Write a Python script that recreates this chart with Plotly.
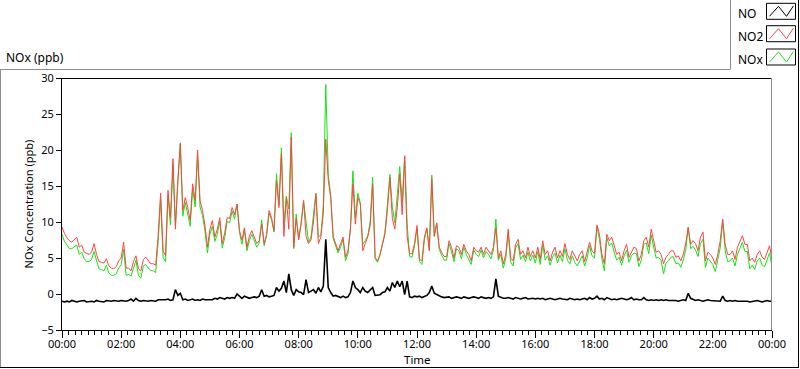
import pandas as pd
import plotly.graph_objects as go

# ---------------- data (5-minute readings, 00:00 .. 24:00) ----------------
series_names = ["NO", "NO2", "NOx"]
start_time = "2000-01-01 00:00"
step = "5min"

no2_ppb = [
    9.3, 8.4, 7.8, 7.4, 7.2, 7.6, 7.9, 6.5, 6.8, 5.8, 5.6, 5.5,
    5.8, 7.0, 5.5, 4.5, 4.4, 4.3, 4.9, 3.9, 3.6, 3.5, 3.8, 4.6,
    5.0, 7.2, 3.6, 3.6, 3.2, 4.5, 5.3, 3.5, 3.2, 4.8, 5.1, 4.6,
    4.2, 4.2, 4.0, 8.0, 14.0, 6.0, 5.3, 14.4, 10.5, 18.8, 9.0, 15.8,
    20.9, 11.6, 13.4, 12.0, 10.2, 15.3, 13.0, 20.0, 13.0, 11.6, 9.5, 6.5,
    9.0, 10.2, 7.9, 9.0, 10.6, 7.0, 8.5, 10.6, 10.5, 12.0, 11.0, 12.5,
    8.8, 7.5, 9.2, 6.5, 8.0, 8.8, 7.9, 7.0, 7.4, 9.7, 7.0, 8.3,
    11.6, 10.6, 8.8, 15.8, 12.0, 19.5, 8.0, 13.4, 9.0, 21.8, 6.5, 10.5,
    7.5, 9.7, 13.0, 8.0, 7.0, 7.5, 10.0, 13.9, 7.0, 7.9, 11.2, 21.5,
    15.8, 13.4, 8.0, 7.0, 6.0, 7.0, 7.9, 5.1, 6.0, 9.0, 15.3, 9.7,
    13.4, 12.5, 6.0, 7.0, 7.9, 9.5, 15.3, 5.1, 4.6, 5.5, 7.0, 8.3,
    11.6, 16.2, 10.5, 9.0, 12.0, 16.7, 11.0, 19.2, 8.0, 5.6, 5.6, 7.0,
    9.5, 4.8, 4.6, 7.9, 9.2, 6.0, 16.0, 8.0, 9.9, 6.5, 5.8, 5.2,
    5.2, 7.4, 6.5, 5.0, 6.7, 6.5, 5.5, 6.9, 6.0, 5.5, 4.6, 6.5,
    6.0, 5.8, 6.5, 5.5, 6.5, 6.0, 5.5, 6.5, 9.2, 5.0, 6.0, 4.2,
    5.5, 9.0, 5.0, 4.6, 6.9, 7.6, 5.5, 6.0, 5.0, 6.5, 5.2, 6.0,
    5.0, 6.5, 4.8, 7.4, 5.5, 6.0, 4.6, 5.8, 6.5, 5.0, 6.0, 5.2,
    7.0, 5.5, 4.8, 6.0, 5.2, 4.6, 5.5, 6.0, 4.5, 5.8, 7.2, 6.0,
    5.6, 9.6, 8.3, 5.5, 4.2, 8.3, 7.4, 7.9, 6.5, 5.5, 5.8, 4.6,
    6.0, 6.9, 5.1, 5.8, 6.5, 6.3, 4.6, 5.5, 7.4, 7.9, 6.5, 9.0,
    7.4, 5.8, 6.0, 5.5, 4.2, 5.1, 5.5, 6.0, 6.0, 5.1, 5.3, 4.6,
    5.5, 7.0, 9.2, 6.9, 7.4, 7.0, 6.0, 7.9, 8.6, 4.6, 5.8, 5.5,
    5.0, 4.1, 5.5, 7.4, 10.4, 6.9, 5.5, 5.5, 6.0, 4.8, 6.5, 7.4,
    8.1, 6.9, 6.9, 4.6, 5.0, 4.4, 5.5, 6.0, 5.1, 4.8, 5.8, 6.7,
    4.8,
]

no_ppb = [
    -1.0, -1.1, -1.0, -1.1, -0.9, -1.0, -1.1, -1.0, -1.0, -0.9, -1.1, -1.0,
    -1.0, -1.1, -0.9, -1.0, -1.0, -1.1, -0.9, -1.0, -1.0, -0.9, -1.0, -1.0,
    -0.9, -1.0, -1.0, -0.9, -0.7, -1.0, -0.6, -0.9, -1.0, -0.9, -1.0, -1.0,
    -0.9, -1.0, -1.0, -0.8, -0.8, -0.9, -0.8, -0.7, -0.9, -0.8, 0.6, -0.2,
    0.1, -0.8, -0.7, -0.9, -0.8, -0.7, -0.9, -0.8, -0.9, -0.7, -0.8, -0.8,
    -0.7, -0.8, -0.6, -0.7, -0.5, -0.6, -0.7, -0.5, -0.6, -0.5, -0.6, 0.0,
    -0.3, -0.6, -0.3, -0.5, -0.6, -0.5, -0.4, -0.5, -0.3, 0.6, -0.3, -0.2,
    -0.4, -0.3, -0.2, 0.9, 0.4, 0.8, 1.8, 0.2, 2.8, 0.6, -0.2, 0.6,
    0.3, 0.2, -0.1, 2.0, 0.2, 0.4, 0.6, 0.1, 0.9, 0.3, 1.1, 7.6,
    0.9, 0.2, -0.3, -0.2, -0.3, -0.5, -0.3, -0.5, -0.4, 0.2, 1.8, 0.9,
    0.6, 0.2, 0.9, 0.4, 0.2, 0.5, 0.9, -0.2, -0.2, -0.1, 0.2, 0.3,
    0.9, 0.4, 1.6, 0.9, 1.8, 1.0, 1.8, -0.1, 1.8, -0.4, -0.5, -0.3,
    -0.4, -0.3, -0.5, -0.3, -0.2, 0.2, 1.1, 0.1, -0.1, -0.3, -0.4, -0.5,
    -0.5, -0.4, -0.6, -0.5, -0.4, -0.5, -0.6, -0.4, -0.5, -0.6, -0.5, -0.4,
    -0.5, -0.6, -0.4, -0.5, -0.6, -0.5, -0.6, -0.4, 2.1, -0.3, -0.5, -0.6,
    -0.6, -0.5, -0.6, -0.7, -0.5, -0.6, -0.7, -0.6, -0.5, -0.7, -0.6, -0.6,
    -0.7, -0.6, -0.7, -0.6, -0.8, -0.7, -0.6, -0.7, -0.8, -0.7, -0.6, -0.7,
    -0.7, -0.8, -0.6, -0.7, -0.8, -0.7, -0.8, -0.7, -0.6, -0.8, -0.5, -0.7,
    -0.6, -0.3, -0.7, -0.6, -0.8, -0.5, -0.7, -0.8, -0.7, -0.8, -0.7, -0.6,
    -0.7, -0.8, -0.7, -0.5, -0.8, -0.7, -0.8, -0.8, -0.5, -0.8, -0.9, -0.8,
    -0.9, -0.8, -0.9, -0.8, -0.9, -0.8, -0.9, -0.9, -0.8, -0.9, -1.0, -0.9,
    -0.8, -0.9, 0.1, -0.6, -0.8, -0.9, -0.8, -0.9, -1.0, -0.9, -0.8, -0.9,
    -0.9, -1.0, -0.9, -1.0, -0.3, -0.9, -1.0, -0.9, -1.0, -0.9, -1.0, -1.0,
    -0.9, -1.0, -1.0, -1.1, -1.0, -1.0, -0.9, -1.0, -1.1, -1.0, -0.9, -1.0,
    -1.0,
]

nox_ppb = [
    8.3, 7.3, 6.8, 6.3, 6.3, 6.6, 6.8, 5.5, 5.8, 4.9, 4.5, 4.5,
    4.8, 5.9, 4.6, 3.5, 3.4, 3.2, 4.0, 2.9, 2.6, 2.6, 2.8, 3.6,
    4.1, 6.2, 2.6, 2.7, 2.5, 3.5, 4.7, 2.6, 2.2, 3.9, 4.1, 3.6,
    3.3, 3.2, 3.0, 7.2, 13.2, 5.1, 4.5, 13.7, 9.6, 18.0, 9.6, 15.6,
    21.0, 10.8, 12.7, 11.1, 9.4, 14.6, 12.1, 19.2, 12.1, 10.9, 8.7, 5.7,
    8.3, 9.4, 7.3, 8.3, 10.1, 6.4, 7.8, 10.1, 9.9, 11.5, 10.4, 12.5,
    8.5, 6.9, 8.9, 6.0, 7.4, 8.3, 7.5, 6.5, 7.1, 10.3, 6.7, 8.1,
    11.2, 10.3, 8.6, 16.7, 12.4, 20.3, 9.8, 13.6, 11.8, 22.4, 6.3, 11.1,
    7.8, 9.9, 12.9, 10.0, 7.2, 7.9, 10.6, 14.0, 7.9, 8.2, 12.3, 29.1,
    16.7, 13.6, 7.7, 6.8, 5.7, 6.5, 7.6, 4.6, 5.6, 9.2, 17.1, 10.6,
    14.0, 12.7, 6.9, 7.4, 8.1, 10.0, 16.2, 4.9, 4.4, 5.4, 7.2, 8.6,
    12.5, 16.6, 12.1, 9.9, 13.8, 17.7, 12.8, 19.1, 9.8, 5.2, 5.1, 6.7,
    9.1, 4.5, 4.1, 7.6, 9.0, 6.2, 16.5, 8.1, 9.8, 6.2, 5.4, 4.7,
    4.7, 7.0, 5.9, 4.5, 6.3, 6.0, 4.9, 6.5, 5.5, 4.9, 4.1, 6.1,
    5.5, 5.2, 6.1, 5.0, 5.9, 5.5, 4.9, 6.1, 10.4, 4.7, 5.5, 3.6,
    4.9, 8.5, 4.4, 3.9, 6.4, 7.0, 4.8, 5.4, 4.5, 5.8, 4.6, 5.4,
    4.3, 5.9, 4.1, 6.8, 4.7, 5.3, 4.0, 5.1, 5.7, 4.3, 5.4, 4.5,
    6.3, 4.7, 4.2, 5.3, 4.4, 3.9, 4.7, 5.3, 3.9, 5.0, 6.7, 5.3,
    5.0, 9.3, 7.6, 4.9, 3.2, 7.8, 6.7, 7.1, 5.8, 4.7, 5.1, 4.0,
    5.3, 6.1, 4.4, 5.3, 5.7, 5.6, 3.8, 4.7, 6.9, 7.1, 5.6, 8.2,
    6.5, 5.0, 5.1, 4.7, 2.8, 4.3, 4.6, 5.1, 5.2, 4.2, 4.3, 3.7,
    4.7, 6.1, 9.3, 6.3, 6.6, 6.1, 5.2, 7.0, 7.6, 3.7, 5.0, 4.6,
    4.1, 3.1, 4.6, 6.4, 10.1, 6.0, 4.5, 4.6, 5.0, 3.9, 5.5, 6.4,
    7.2, 5.9, 5.9, 3.5, 4.0, 3.4, 4.6, 5.0, 4.0, 3.8, 4.9, 5.7,
    3.8,
]

y_ticks = [-5, 0, 5, 10, 15, 20, 25, 30]

times = pd.date_range(start_time, periods=len(no2_ppb), freq=step)

# ---------------- styling ----------------
colors = {"NO": "#000000", "NO2": "#ff4444", "NOx": "#14e614"}
widths = {"NO": 1.6, "NO2": 1.0, "NOx": 1.0}
FONT = "Noto Sans"

W, H = 800, 369
L, R, T, B = 62, 772, 78, 330


def px(x):
    return (x - L) / (R - L)


def py(y):
    return (B - y) / (B - T)


fig = go.Figure()
values = {"NO": no_ppb, "NO2": no2_ppb, "NOx": nox_ppb}
for name in ["NOx", "NO2", "NO"]:
    fig.add_trace(go.Scatter(
        x=times, y=values[name], name=name, mode="lines",
        line=dict(color=colors[name], width=widths[name]),
        showlegend=False,
    ))

shapes = []


def line(x0, y0, x1, y1, color, width=1):
    shapes.append(dict(type="line", xref="paper", yref="paper",
                       x0=px(x0), y0=py(y0), x1=px(x1), y1=py(y1),
                       line=dict(color=color, width=width)))


# outer frame
line(0, 69.5, 730, 69.5, "#8c8c8c")
line(0.5, 69.5, 0.5, 367.5, "#8c8c8c")
line(0, 367.5, 798, 367.5, "#000000")
line(798.5, 0, 798.5, 368, "#000000")
# legend box left edge
line(730.5, 0, 730.5, 69.5, "#8c8c8c")
# plot top / right edges
line(L, T + 0.5, R, T + 0.5, "#000000")
line(R - 0.5, T, R - 0.5, B, "#8c8c8c")

annotations = []
legend_rows = [13.8, 36.2, 59.5]
for name, yc in zip(series_names, legend_rows):
    annotations.append(dict(text=name, xref="paper", yref="paper",
                            x=px(736), y=py(yc), xanchor="left", yanchor="middle",
                            showarrow=False, font=dict(family=FONT, size=12, color="#000")))
    bx0, bx1, by0, by1 = 766.5, 795.5, yc - 10.5, yc + 5.5
    shapes.append(dict(type="rect", xref="paper", yref="paper",
                       x0=px(bx0), x1=px(bx1), y0=py(by1), y1=py(by0),
                       line=dict(color="#000", width=1), fillcolor="#fff"))
    pts = [(769.5, by1 - 3), (778.5, by0 + 3), (786.5, by1 - 3), (793.5, by0 + 2.5)]
    path = "M " + " L ".join(f"{px(a):.5f},{py(b):.5f}" for a, b in pts)
    shapes.append(dict(type="path", xref="paper", yref="paper", path=path,
                       line=dict(color=colors[name], width=1)))

annotations.append(dict(text="NOx (ppb)", xref="paper", yref="paper",
                        x=px(4), y=py(57), xanchor="left", yanchor="middle",
                        showarrow=False, font=dict(family=FONT, size=12, color="#000")))
# x-axis title
annotations.append(dict(text="Time", xref="paper", yref="paper",
                        x=0.5, y=py(359.5), xanchor="center", yanchor="middle",
                        showarrow=False, borderpad=0,
                        font=dict(family=FONT, size=11.5, color="#000")))

fig.update_layout(
    width=W, height=H, autosize=False,
    margin=dict(l=L, r=W - R, t=T, b=H - B, pad=0),
    paper_bgcolor="white", plot_bgcolor="white",
    font=dict(family=FONT, size=11, color="#000"),
    shapes=shapes, annotations=annotations,
    showlegend=False,
)
fig.update_xaxes(
    type="date", automargin=False,
    range=[times[0], times[-1]],
    tickformat="%H:%M", dtick=2 * 3600 * 1000, tick0=start_time,
    ticks="outside", ticklen=7, tickcolor="#000", tickwidth=1,
    ticklabelstandoff=-3,
    showline=True, linecolor="#000", linewidth=1,
    showgrid=False, zeroline=False,
    minor=dict(dtick=800000, ticks="outside", ticklen=4, tickcolor="#000", showgrid=False),
    tickfont=dict(family=FONT, size=11),
)
fig.update_yaxes(
    automargin=False,
    range=[-5, 30], tickvals=y_ticks,
    ticks="outside", ticklen=5, tickcolor="#000", tickwidth=1,
    showline=True, linecolor="#000", linewidth=1,
    showgrid=False, zeroline=False,
    title=dict(text="NOx Concentration (ppb)", standoff=5, font=dict(family=FONT, size=11)),
    tickfont=dict(family=FONT, size=11),
)

fig.write_html(
    "out.html",
    config={"displayModeBar": False},
    post_script="document.body.style.margin='0';document.body.style.overflow='hidden';",
)
